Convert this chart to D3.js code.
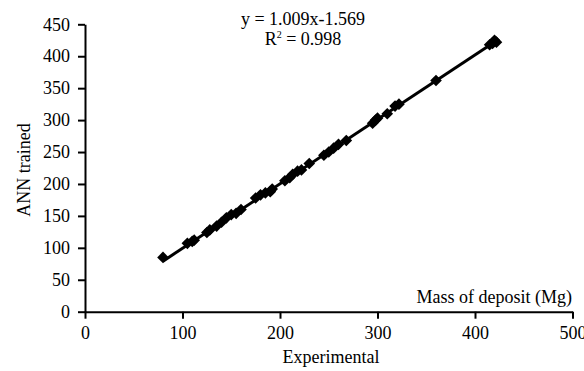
<!DOCTYPE html>
<html>
<head>
<meta charset="utf-8">
<script src="https://cdn.jsdelivr.net/npm/d3@7"></script>
<style>
    body { margin: 0; background: #fff; }
    text { font-family: "Liberation Serif", "Times New Roman", serif; fill: #000; }
</style>
</head>
<body>
<svg width="584" height="371"></svg>
<script>
// measured mass of deposit vs. network output (Mg)
var experimental = [80, 105, 110, 112, 125, 128, 135, 140, 145, 150, 155, 160, 175, 180, 185, 190, 192,
    205, 210, 213, 218, 222, 230, 245, 250, 255, 260, 268, 295, 298, 300, 310, 318, 322, 360, 415, 418, 420, 422];
var annTrained = [85, 107, 110, 112, 124, 128, 134, 140, 147, 152, 154, 160, 178, 183, 186, 188, 192,
    205, 210, 215, 220, 222, 232, 245, 250, 256, 262, 268, 295, 300, 303, 310, 322, 325, 362, 418, 420, 425, 422];
var xTicks = [0, 100, 200, 300, 400, 500];
var yTicks = [0, 50, 100, 150, 200, 250, 300, 350, 400, 450];
var slope = 1.009, intercept = -1.569;

var svg = d3.select('svg');

var xScale = d3.scaleLinear().domain([0, 500]).range([85, 572.5]);
var yScale = d3.scaleLinear().domain([0, 450]).range([311.7, 24.3]);

var xAxis = svg.append('g')
    .attr('transform', 'translate(0,' + yScale(0) + ')')
    .call(d3.axisBottom(xScale).tickValues(xTicks).tickSize(7).tickPadding(8).tickSizeOuter(0));

var yAxis = svg.append('g')
    .attr('transform', 'translate(' + xScale(0) + ',0)')
    .call(d3.axisLeft(yScale).tickValues(yTicks).tickSize(7).tickPadding(8).tickSizeOuter(0));

[xAxis, yAxis].forEach(function(g) {
    g.select('.domain').attr('stroke', '#000').attr('stroke-width', 2);
    g.selectAll('.tick line').attr('stroke', '#000').attr('stroke-width', 2);
    g.selectAll('.tick text')
        .attr('fill', '#000')
        .style('font-family', '"Liberation Serif", serif')
        .style('font-size', '18px');
});

// trend line over the measured range
var xExt = d3.extent(experimental);
svg.append('path')
    .datum(xExt)
    .attr('d', d3.line()
        .x(function(d) { return xScale(d); })
        .y(function(d) { return yScale(slope * d + intercept); }))
    .attr('fill', 'none')
    .attr('stroke', '#000')
    .attr('stroke-width', 3);

var diamond = d3.symbol().type(d3.symbolSquare).size(68);

svg.append('g')
    .selectAll('path')
    .data(experimental)
    .enter()
    .append('path')
    .attr('d', diamond)
    .attr('transform', function(d, i) {
        return 'translate(' + xScale(d) + ',' + yScale(annTrained[i]) + ') rotate(45)';
    })
    .attr('fill', '#000');

// equation
svg.append('text')
    .attr('x', 303).attr('y', 25)
    .attr('text-anchor', 'middle')
    .style('font-size', '18px')
    .text('y = 1.009x-1.569');

var r2 = svg.append('text')
    .attr('x', 303).attr('y', 45)
    .attr('text-anchor', 'middle')
    .style('font-size', '18px');
r2.append('tspan').text('R');
r2.append('tspan').attr('dy', -7).style('font-size', '10px').text('2');
r2.append('tspan').attr('dy', 7).text(' = 0.998');

// axis titles
svg.append('text')
    .attr('x', 572).attr('y', 303)
    .attr('text-anchor', 'end')
    .style('font-size', '18px')
    .text('Mass of deposit (Mg)');

svg.append('text')
    .attr('x', 331).attr('y', 363)
    .attr('text-anchor', 'middle')
    .style('font-size', '18px')
    .text('Experimental');

svg.append('text')
    .attr('transform', 'translate(30,170) rotate(-90)')
    .attr('text-anchor', 'middle')
    .style('font-size', '18px')
    .text('ANN trained');
</script>
</body>
</html>
